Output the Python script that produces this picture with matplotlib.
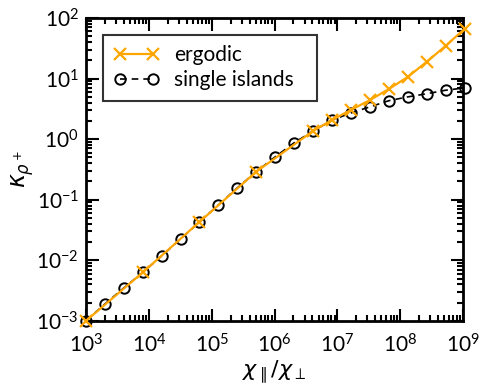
"""Heat-flux coefficient versus anisotropy ratio, ergodic vs single islands."""

import matplotlib
matplotlib.use("Agg")
import matplotlib.pyplot as plt
from matplotlib.ticker import LogLocator, NullFormatter

plt.rcParams["font.family"] = ["Lato", "DejaVu Sans"]
plt.rcParams["mathtext.fontset"] = "dejavusans"

# anisotropy ratio chi_par / chi_perp (factor 2 steps from 1e3)
x_islands = [1.0e3, 2.0e3, 4.0e3, 8.0e3, 1.6e4, 3.2e4, 6.4e4, 1.28e5, 2.56e5,
             5.12e5, 1.024e6, 2.048e6, 4.096e6, 8.192e6, 1.638e7, 3.277e7,
             6.554e7, 1.311e8, 2.621e8, 5.243e8, 1.049e9]
k_islands = [1.0e-3, 1.9e-3, 3.5e-3, 6.3e-3, 1.18e-2, 2.25e-2, 4.3e-2, 8.2e-2,
             0.157, 0.29, 0.51, 0.87, 1.36, 2.05, 2.7, 3.4, 4.3, 4.97, 5.6,
             6.4, 7.0]

x_ergodic = [1.0e3, 8.0e3, 6.4e4, 5.12e5, 4.096e6, 8.192e6, 1.638e7, 3.277e7,
             6.554e7, 1.311e8, 2.621e8, 5.243e8, 1.049e9]
k_ergodic = [1.0e-3, 6.3e-3, 4.3e-2, 0.29, 1.36, 2.07, 3.03, 4.4, 6.7, 10.6,
             18.8, 34.5, 65.8]

fig = plt.figure(figsize=(4.8, 3.89), dpi=100)
ax = fig.add_axes([0.179, 0.175, 0.786, 0.779])

ax.plot(x_ergodic, k_ergodic, color="orange", lw=1.6, marker="x", ms=8,
        mew=1.6, label="ergodic", zorder=3, clip_on=False)
ax.plot(x_islands, k_islands, color="black", lw=1.2, ls=(0, (4, 3)),
        marker="o", ms=7.5, mfc="none", mew=1.4, label="single islands",
        zorder=2, clip_on=False)

ax.set_xscale("log")
ax.set_yscale("log")
ax.set_xlim(1e3, 1e9)
ax.set_ylim(1e-3, 1e2)

ax.xaxis.set_minor_locator(LogLocator(base=10, subs=range(2, 10), numticks=20))
ax.yaxis.set_minor_locator(LogLocator(base=10, subs=range(2, 10), numticks=20))
ax.xaxis.set_minor_formatter(NullFormatter())
ax.yaxis.set_minor_formatter(NullFormatter())

ax.tick_params(which="both", direction="in", top=True, right=True,
               labelsize=15, width=1.5)
ax.tick_params(which="major", length=9)
ax.tick_params(which="minor", length=4.5)
ax.tick_params(axis="x", which="major", pad=9)
ax.tick_params(axis="y", which="major", pad=5)
for s in ax.spines.values():
    s.set_linewidth(2)

ax.set_xlabel(r"$\chi_{\parallel}/\chi_{\perp}$", fontsize=16, labelpad=1)
ax.set_ylabel(r"$\kappa_{\rho^+}$", fontsize=17, labelpad=0)

leg = ax.legend(loc="upper left", bbox_to_anchor=(0.045, 0.746, 0.568, 0.198),
                mode="expand", fontsize=15, numpoints=2, frameon=True,
                fancybox=False, borderpad=0.5, handlelength=2.2,
                labelspacing=0.25, handletextpad=0.7, borderaxespad=0)
leg.get_frame().set_edgecolor("black")
leg.get_frame().set_linewidth(1.5)

fig.savefig("out.png", dpi=100)
plt.close(fig)
